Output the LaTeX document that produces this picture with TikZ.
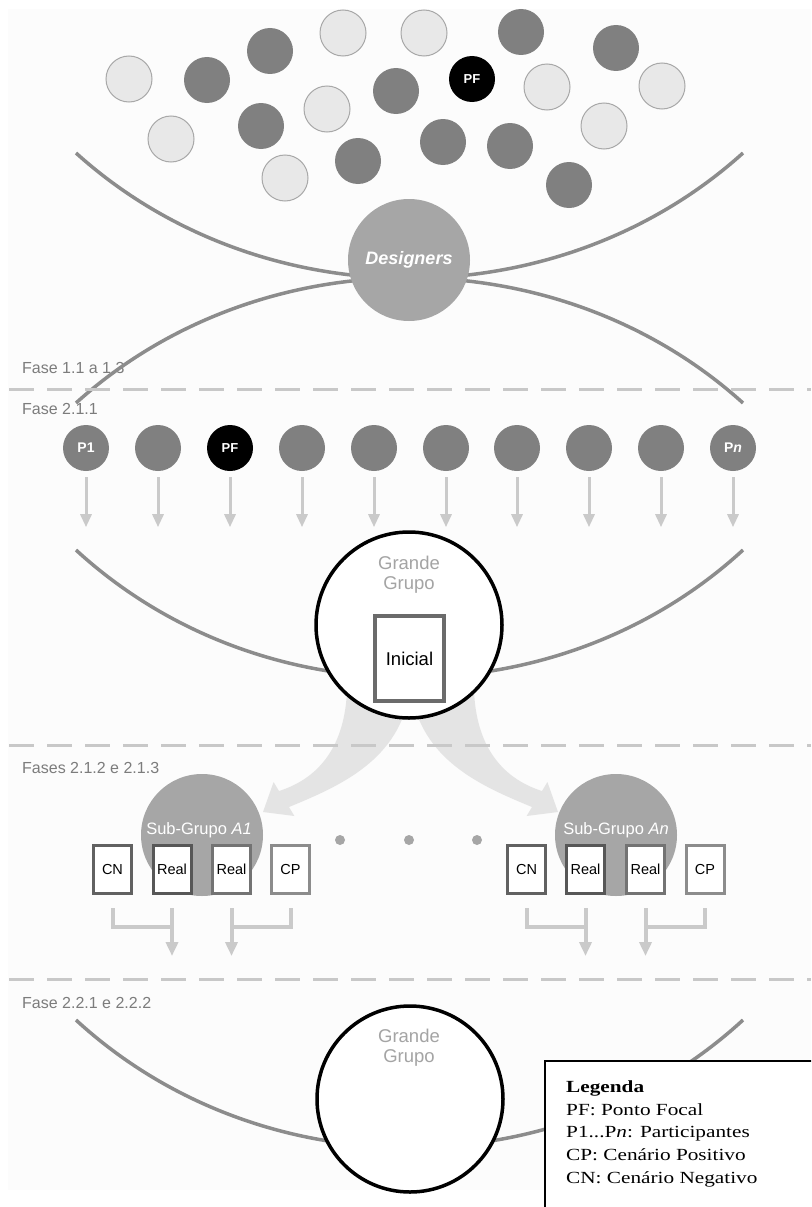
\documentclass[tikz,border=0pt]{standalone}
\usepackage{fontspec}
\setmainfont{Liberation Sans}
\newfontfamily\legfont{Liberation Serif}
\usepackage{graphicx}
\usetikzlibrary{arrows.meta}
\definecolor{curvecol}{HTML}{8C8C8C}
\definecolor{lightfill}{HTML}{E8E8E8}
\definecolor{lightdraw}{HTML}{A8A8A8}
\definecolor{darkfill}{HTML}{808080}
\definecolor{midfill}{HTML}{A6A6A6}
\definecolor{phasecol}{HTML}{7C7C7C}
\definecolor{dashcol}{HTML}{C8C8C8}
\definecolor{arrcol}{HTML}{CACACA}
\definecolor{bigarr}{HTML}{E4E4E4}
\definecolor{ggtext}{HTML}{A4A4A4}
\definecolor{bgcol}{HTML}{FCFCFC}
\begin{document}
\begin{tikzpicture}[x=1pt,y=-1pt,
  lightc/.style={circle, minimum size=46pt, inner sep=0pt, fill=lightfill, draw=lightdraw, line width=1pt},
  darkc/.style={circle, minimum size=46pt, inner sep=0pt, fill=darkfill, text=white, font=\fontsize{14}{16}\selectfont\bfseries},
  pfc/.style={circle, minimum size=46pt, inner sep=0pt, fill=black, text=white, font=\fontsize{13}{15}\selectfont\bfseries},
  curveline/.style={draw=curvecol, line width=3.5pt},
  dashline/.style={draw=dashcol, line width=3pt, dash pattern=on 25pt off 13pt},
  phaselab/.style={anchor=west, inner sep=0pt, text=phasecol, font=\fontsize{16}{19}\selectfont},
  bigcircle/.style={circle, minimum size=186pt, inner sep=0pt, draw=black, line width=3.5pt, fill=white},
  midcircle/.style={circle, minimum size=122pt, inner sep=0pt, fill=midfill},
  ggtxt/.style={text=ggtext, inner sep=0pt, font=\fontsize{18.5}{21}\selectfont},
  rowarrow/.style={draw=arrcol, line width=3pt, -{Triangle[width=11pt,length=13pt]}},
  bracket/.style={draw=arrcol, line width=4pt},
  bracketarrow/.style={draw=arrcol, line width=4pt, -{Triangle[width=12pt,length=14pt]}},
  scen/.style={rectangle, minimum width=38pt, minimum height=48pt, inner sep=0pt, fill=white, line width=3pt, font=\fontsize{14.5}{17}\selectfont},
  dotc/.style={circle, minimum size=10pt, inner sep=0pt, fill=midfill},
  legtxt/.style={anchor=base west, inner sep=0pt, font=\legfont\fontsize{17}{20}\selectfont}
]
\clip (0,0) rectangle (811,1207);
\useasboundingbox (0,0) rectangle (811,1207);
\fill[white] (0,0) rectangle (811,1207);
\fill[bgcol] (8,9) rectangle (811,1190);

% ---------- Phase labels ----------
\node[phaselab] (f1) at (22,368) {Fase 1.1 a 1.3};
\node[phaselab] (f2) at (22,409) {Fase 2.1.1};
\node[phaselab] (f3) at (22,768) {Fases 2.1.2 e 2.1.3};
\node[phaselab] (f4) at (22,1003) {Fase 2.2.1 e 2.2.2};

% ---------- Phase 1 ----------
\draw[curveline] (76,153) .. controls (261,320) and (558,320) .. (743,153);
\draw[curveline] (76,403) .. controls (261,236) and (558,236) .. (743,403);

\foreach \n/\x/\y in {l1/129/79, l2/343/33, l3/424/33, l4/171/139, l5/327/109, l6/547/87, l7/662/86, l8/604/126, l9/285/178}
  \node[lightc] (\n) at (\x,\y) {};
\foreach \n/\x/\y in {d1/207/80, d2/270/51, d3/261/126, d4/396/91, d5/358/161, d6/443/142, d7/521/32, d8/510/146, d9/616/48, d10/569/185}
  \node[darkc] (\n) at (\x,\y) {};
\node[pfc] (pf0) at (472,79) {PF};

\node[midcircle, text=white, font=\fontsize{18}{20}\selectfont\bfseries\itshape] (des) at (409,260) {Designers};

\draw[dashline] (9,389) -- (811,389);

% ---------- Phase 2.1.1 ----------
\node[darkc] (r0) at (86,448) {P1};
\node[darkc] (r1) at (158,448) {};
\node[pfc]   (r2) at (230,448) {PF};
\node[darkc] (r3) at (302,448) {};
\node[darkc] (r4) at (374,448) {};
\node[darkc] (r5) at (446,448) {};
\node[darkc] (r6) at (517,448) {};
\node[darkc] (r7) at (589,448) {};
\node[darkc] (r8) at (661,448) {};
\node[darkc] (r9) at (733,448) {P\textit{n}};
\foreach \k in {0,...,9}
  \draw[rowarrow] ([yshift=-6pt]r\k.south) -- ([yshift=-56pt]r\k.south);

\draw[curveline] (76,550) .. controls (261,720) and (558,720) .. (743,550);

% big curved arrows (from the Grande Grupo to the sub-groups)
\fill[bigarr] (347,690) .. controls (345,745) and (320,778) .. (279,791)
  -- (273.6,782) -- (263,812) -- (294.4,816) -- (289,807)
  .. controls (340,786) and (400,760) .. (410,690) -- cycle;
\fill[bigarr] (474,690) .. controls (476,745) and (501,778) .. (542,791)
  -- (547.4,782) -- (558,812) -- (526.6,816) -- (532,807)
  .. controls (481,786) and (421,760) .. (411,690) -- cycle;

\node[bigcircle] (gg1) at (409,625) {};
\node[ggtxt] (gg1a) at (409,563) {Grande};
\node[ggtxt] (gg1b) at (409,585) {Grupo};
\node[rectangle, minimum width=69pt, minimum height=85pt, inner sep=0pt, draw=black!58, line width=4pt, fill=white, font=\fontsize{18.5}{21}\selectfont] (ini) at (409.5,658.5) {Inicial};

\draw[dashline] (9,745) -- (811,745);

% ---------- Phases 2.1.2 / 2.1.3 ----------
\node[midcircle] (sgA) at (202,835) {};
\node[midcircle] (sgN) at (616,835) {};
\node[text=white, inner sep=0pt, font=\fontsize{16.5}{19}\selectfont] (sgAl) at (199,830) {Sub-Grupo \textit{A1}};
\node[text=white, inner sep=0pt, font=\fontsize{16.5}{19}\selectfont] (sgNl) at (616,830) {Sub-Grupo \textit{An}};

\node[scen, draw=black!62] (cnA) at (112.5,869.5) {CN};
\node[scen, draw=black!66] (reA1) at (172,869.5) {Real};
\node[scen, draw=black!55] (reA2) at (231.5,869.5) {Real};
\node[scen, draw=black!45] (cpA) at (290.5,869.5) {CP};
\node[scen, draw=black!62] (cnN) at (526.5,869.5) {CN};
\node[scen, draw=black!66] (reN1) at (585.5,869.5) {Real};
\node[scen, draw=black!55] (reN2) at (645.5,869.5) {Real};
\node[scen, draw=black!45] (cpN) at (705,869.5) {CP};

\node[dotc] (dot1) at (340,840) {};
\node[dotc] (dot2) at (409,840) {};
\node[dotc] (dot3) at (477,840) {};

\draw[bracket] ([yshift=-13pt]cnA.south) |- ([yshift=-32pt]reA1.south);
\draw[bracketarrow] ([yshift=-13pt]reA1.south) -- ([yshift=-61pt]reA1.south);
\draw[bracket] ([yshift=-13pt]cpA.south) |- ([yshift=-32pt]reA2.south);
\draw[bracketarrow] ([yshift=-13pt]reA2.south) -- ([yshift=-61pt]reA2.south);
\draw[bracket] ([yshift=-13pt]cnN.south) |- ([yshift=-32pt]reN1.south);
\draw[bracketarrow] ([yshift=-13pt]reN1.south) -- ([yshift=-61pt]reN1.south);
\draw[bracket] ([yshift=-13pt]cpN.south) |- ([yshift=-32pt]reN2.south);
\draw[bracketarrow] ([yshift=-13pt]reN2.south) -- ([yshift=-61pt]reN2.south);

\draw[dashline] (9,979) -- (811,979);

% ---------- Phase 2.2 ----------
\draw[curveline] (76,1020) .. controls (261,1190) and (558,1190) .. (743,1020);
\node[bigcircle] (gg2) at (410,1099) {};
\node[ggtxt] (gg2a) at (409,1036) {Grande};
\node[ggtxt] (gg2b) at (409,1058) {Grupo};

% ---------- Legend ----------
\node[draw=black, line width=1.5pt, fill=white, anchor=north west, minimum width=300pt, minimum height=200pt, inner sep=0pt] (legbox) at (544,1060) {};
\node[legtxt] (lg0) at (566,1092) {\scalebox{1.25}[1]{\textbf{Legenda}}};
\node[legtxt] (lg1) at (566,1115) {\scalebox{1.25}[1]{PF: Ponto Focal}};
\node[legtxt] (lg2) at (566,1137) {\scalebox{1.25}[1]{P1...P\textit{n}: Participantes}};
\node[legtxt] (lg3) at (566,1160) {\scalebox{1.25}[1]{CP: Cenário Positivo}};
\node[legtxt] (lg4) at (566,1183) {\scalebox{1.25}[1]{CN: Cenário Negativo}};
\end{tikzpicture}
\end{document}
